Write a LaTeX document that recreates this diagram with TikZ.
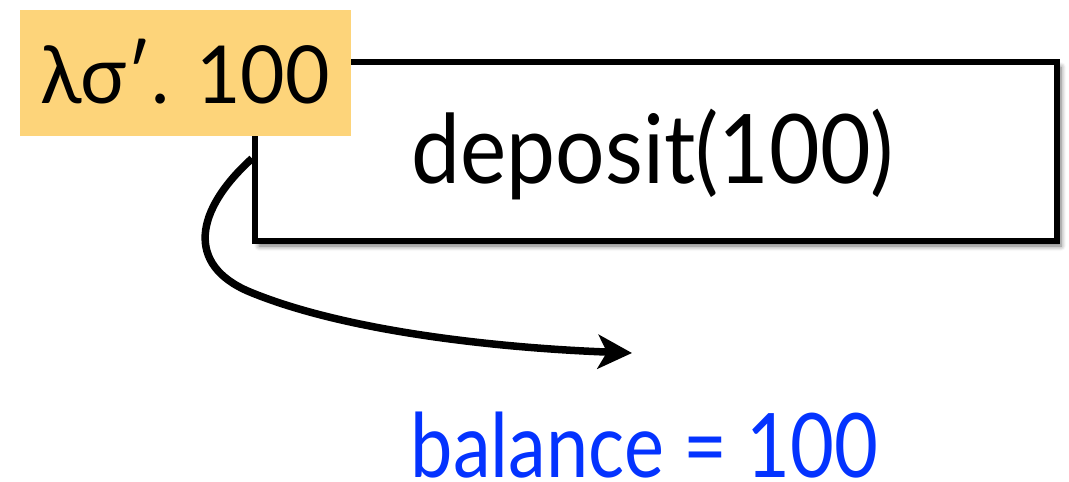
\documentclass[tikz,border=0pt]{standalone}
\usepackage{fontspec}
\setmainfont{Lato}
\usetikzlibrary{arrows.meta,shadows.blur}
\definecolor{labelorange}{RGB}{253,212,122}
\definecolor{keyblue}{RGB}{4,51,255}
\tikzset{
  framebox/.style={draw=black, line width=6pt, fill=white, inner sep=0pt,
    blur shadow={shadow xshift=4pt, shadow yshift=-5pt, shadow blur steps=6, shadow blur radius=5pt, shadow opacity=55}},
  lambox/.style={fill=labelorange, inner sep=0pt, anchor=north west},
  bigtext/.style={inner sep=0pt, anchor=base, text depth=0pt},
  flow/.style={line width=7.5pt, -{Stealth[length=34pt,width=34pt,inset=9pt]}}
}
\begin{document}
\begin{tikzpicture}[x=1pt,y=-1pt]
\useasboundingbox (0,0) rectangle (1069,482);
\node[framebox, minimum width=802pt, minimum height=179pt] (box) at (656,151.5) {};
\node[bigtext, font=\fontsize{96}{110}\selectfont] (dep) at (653,183) {\scalebox{0.91}[1]{deposit(100)}};
\node[lambox, minimum width=331pt, minimum height=126pt] (lam) at (20,10) {};
\node[bigtext, font=\fontsize{80}{96}\selectfont] (lamtext) at (185,103) {\scalebox{0.96}[1]{λσ′. 100}};
\node[bigtext, font=\fontsize{89}{104}\selectfont, text=keyblue] (bal) at (644.5,477) {\scalebox{0.85}[1]{balance = 100}};
\coordinate (tip) at (632,353);
\draw[flow] ([yshift=-7pt]box.west) .. controls (195,210) and (185,265) .. (250,292)
  .. controls (347,332) and (500,348) .. (tip);
\end{tikzpicture}
\end{document}
